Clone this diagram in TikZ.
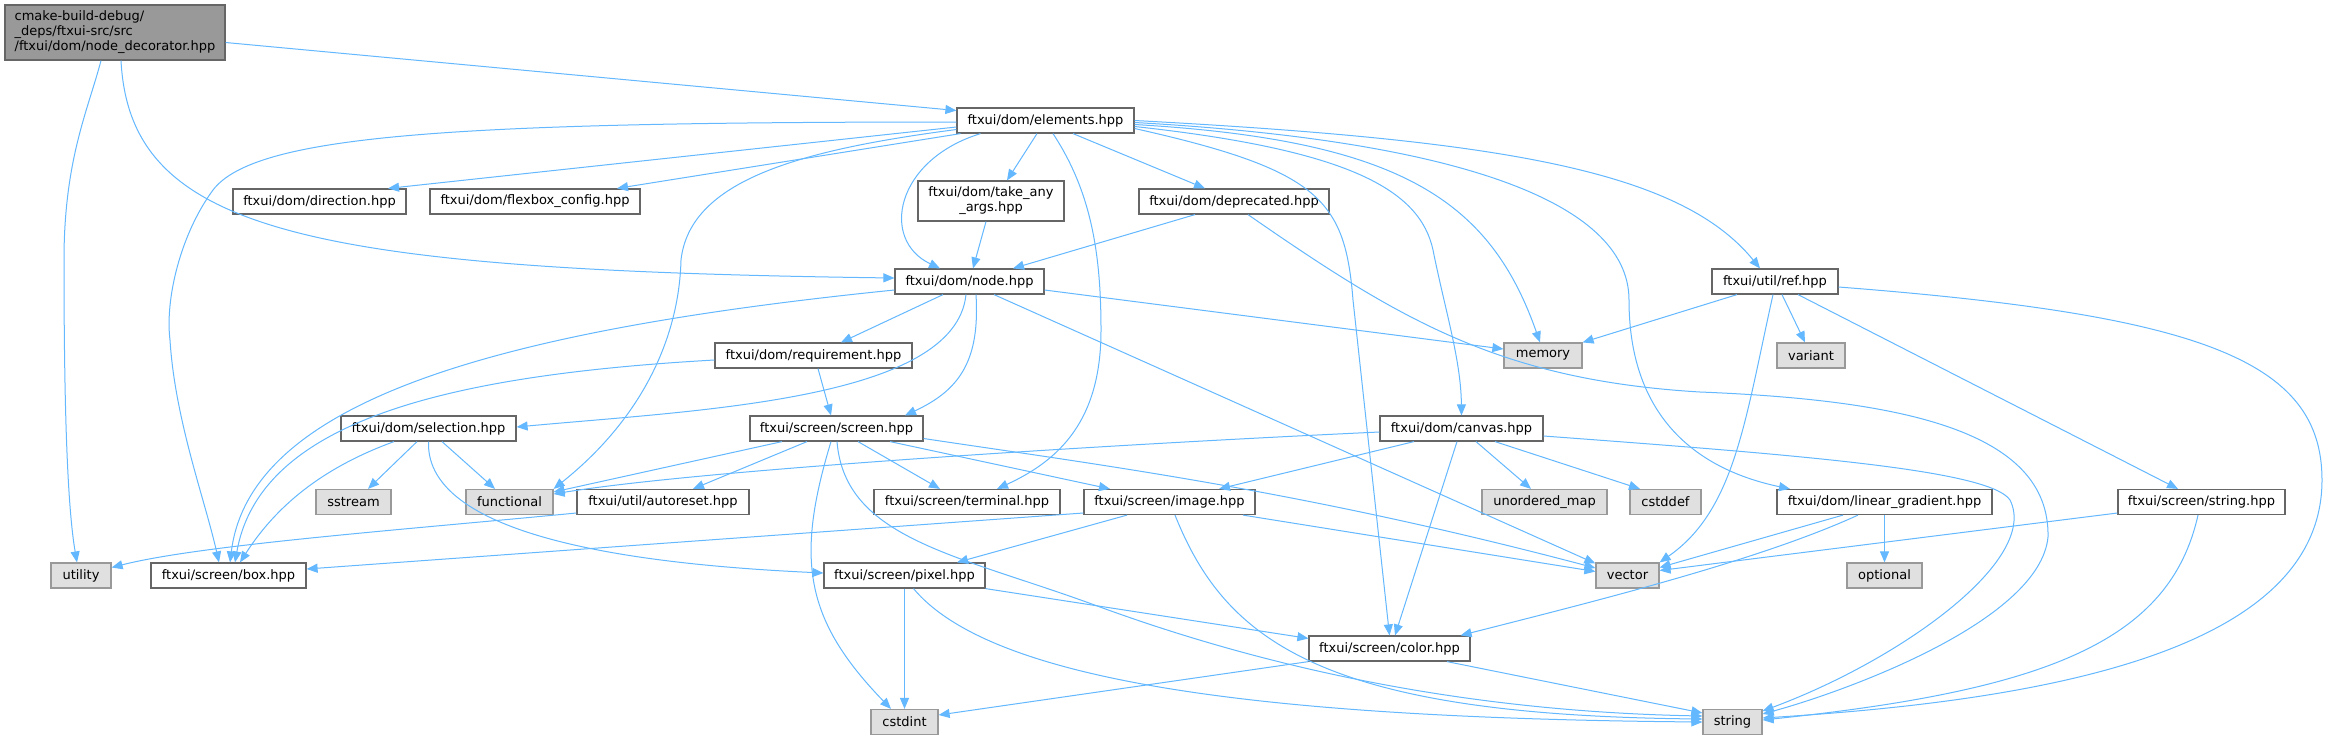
\documentclass[tikz,border=0pt]{standalone}
\usepackage{fontspec}
\setmainfont{DejaVu Sans}
\usetikzlibrary{arrows.meta}
\definecolor{edgeblue}{HTML}{63B8FF}
\definecolor{hdrline}{HTML}{666666}
\definecolor{sysline}{HTML}{999999}
\definecolor{sysfill}{HTML}{E0E0E0}
\definecolor{rootfill}{HTML}{999999}
\begin{document}
\begin{tikzpicture}[x=1pt,y=-1pt,
    hdr/.style={draw=hdrline, line width=1.2pt, fill=white, minimum height=25pt, inner sep=0pt, font=\fontsize{13}{15}\selectfont},
    sys/.style={hdr, draw=sysline, fill=sysfill},
    rootbox/.style={hdr, fill=rootfill, align=left, minimum height=55pt},
    inc/.style={edgeblue, line width=1pt, -{Triangle[length=11pt,width=9pt]}}]
    \path[use as bounding box, fill=white] (0,0) rectangle (2329,740);

    \node[rootbox, minimum width=220pt] (decor) at (115,32.5) {cmake-build-debug/\\\_deps/ftxui-src/src\\/ftxui/dom/node\_decorator.hpp};
    \node[hdr, minimum width=177pt] (elements) at (1045.5,120.5) {ftxui/dom/elements.hpp};
    \node[hdr, minimum width=173pt] (direction) at (319.5,201.5) {ftxui/dom/direction.hpp};
    \node[hdr, minimum width=210pt] (flexbox) at (535,201.5) {ftxui/dom/flexbox\_config.hpp};
    \node[hdr, minimum width=146pt, minimum height=40pt, align=center] (takeany) at (991,201) {ftxui/dom/take\_any\\\_args.hpp};
    \node[hdr, minimum width=190pt] (deprecated) at (1234,201.5) {ftxui/dom/deprecated.hpp};
    \node[hdr, minimum width=149pt] (domnode) at (969.5,281.5) {ftxui/dom/node.hpp};
    \node[hdr, minimum width=126pt] (ref) at (1775,281.5) {ftxui/util/ref.hpp};
    \node[sys, minimum width=78pt] (memory) at (1543,355.5) {memory};
    \node[sys, minimum width=68pt] (variant) at (1811,355.5) {variant};
    \node[hdr, minimum width=197pt] (requirement) at (813.5,355.5) {ftxui/dom/requirement.hpp};
    \node[hdr, minimum width=175pt] (selection) at (428.5,428.5) {ftxui/dom/selection.hpp};
    \node[hdr, minimum width=173pt] (screen) at (836.5,428.5) {ftxui/screen/screen.hpp};
    \node[hdr, minimum width=163pt] (canvas) at (1461.5,428.5) {ftxui/dom/canvas.hpp};
    \node[sys, minimum width=75pt] (sstream) at (353.5,502) {sstream};
    \node[sys, minimum width=87pt] (functional) at (509.5,502) {functional};
    \node[hdr, minimum width=172pt] (autoreset) at (663,502) {ftxui/util/autoreset.hpp};
    \node[hdr, minimum width=186pt] (terminal) at (967,502) {ftxui/screen/terminal.hpp};
    \node[hdr, minimum width=171pt] (scrimage) at (1169.5,502) {ftxui/screen/image.hpp};
    \node[sys, minimum width=125pt] (unorderedmap) at (1544.5,502) {unordered\_map};
    \node[sys, minimum width=71pt] (cstddef) at (1665.5,502) {cstddef};
    \node[hdr, minimum width=215pt] (lineargradient) at (1884.5,502) {ftxui/dom/linear\_gradient.hpp};
    \node[hdr, minimum width=167pt] (strhpp) at (2201.5,502) {ftxui/screen/string.hpp};
    \node[sys, minimum width=60pt] (utility) at (81,575.5) {utility};
    \node[hdr, minimum width=155pt] (scrbox) at (228.5,575.5) {ftxui/screen/box.hpp};
    \node[hdr, minimum width=161pt] (pixel) at (904.5,575.5) {ftxui/screen/pixel.hpp};
    \node[sys, minimum width=63pt] (vec) at (1627.5,575.5) {vector};
    \node[sys, minimum width=75pt] (optional) at (1884.5,575.5) {optional};
    \node[hdr, minimum width=161pt] (scrcolor) at (1389.5,648.5) {ftxui/screen/color.hpp};
    \node[sys, minimum width=67pt] (cstdint) at (904.5,722) {cstdint};
    \node[sys, minimum width=59pt] (str) at (1732.5,722) {string};

    \draw[inc] ([yshift=-10pt]decor.east) -- ([yshift=10pt]elements.west);
    \draw[inc] ([xshift=-14pt]decor.south) .. controls (88,110) and (64,160) .. (64,260) .. controls (64,420) and (68,510) .. ([xshift=-4pt]utility.north);
    \draw[inc] ([xshift=6pt]decor.south) .. controls (130,230) and (300,270) .. ([yshift=3.5pt]domnode.west);

    \draw[inc] ([yshift=-1.5pt]elements.west) .. controls (450,122) and (255,135) .. (213,190) .. controls (180,235) and (165,300) .. (170,340) .. controls (175,420) and (205,500) .. ([xshift=-9.5pt]scrbox.north);
    \draw[inc] ([yshift=-6.5pt]elements.west) -- ([xshift=68.5pt]direction.north);
    \draw[inc] ([xshift=-85pt]elements.south) -- ([xshift=82pt]flexbox.north);
    \draw[inc] ([yshift=-9pt]elements.west) .. controls (800,150) and (690,180) .. (681,260) .. controls (679,340) and (640,420) .. (functional.north east);
    \draw[inc] ([xshift=-8.5pt]elements.south) -- ([xshift=16pt]takeany.north);
    \draw[inc] ([xshift=-65pt]elements.south) .. controls (895,160) and (880,240) .. ([xshift=-29.5pt]domnode.north);
    \draw[inc] ([xshift=7.5pt]elements.south) .. controls (1090,190) and (1101,250) .. (1101,330) .. controls (1101,420) and (1060,460) .. ([xshift=30pt]terminal.north);
    \draw[inc] ([xshift=27.5pt]elements.south) -- ([xshift=-29pt]deprecated.north);
    \draw[inc] ([yshift=-8pt]elements.east) .. controls (1320,170) and (1345,200) .. (1353,300) -- (scrcolor.north);
    \draw[inc] ([yshift=-6pt]elements.east) .. controls (1350,150) and (1420,190) .. (1433,250) .. controls (1445,310) and (1461,360) .. (canvas.north);
    \draw[inc] ([yshift=-4pt]elements.east) .. controls (1400,140) and (1490,200) .. ([xshift=-3pt]memory.north);
    \draw[inc] ([yshift=-2pt]elements.east) .. controls (1450,140) and (1629,200) .. (1629,300) .. controls (1629,420) and (1700,470) .. ([xshift=-94.5pt]lineargradient.north);
    \draw[inc] (elements.east) .. controls (1500,140) and (1680,170) .. ([xshift=-15pt]ref.north);

    \draw[inc] ([yshift=-8.5pt]domnode.east) -- ([yshift=6.5pt]memory.west);
    \draw[inc] ([yshift=-8.5pt]domnode.west) .. controls (500,330) and (250,400) .. ([xshift=1.5pt]scrbox.north);
    \draw[inc] ([xshift=-26.5pt]domnode.south) -- ([xshift=27.5pt]requirement.north);
    \draw[inc] ([xshift=-3.5pt]domnode.south) .. controls (955,400) and (700,410) .. ([yshift=1.5pt]selection.east);
    \draw[inc] ([xshift=6.5pt]domnode.south) .. controls (980,360) and (960,390) .. ([xshift=68.5pt]screen.north);
    \draw[inc] ([xshift=24.5pt]domnode.south) -- ([yshift=12pt]vec.west);

    \draw[inc] ([xshift=-5pt]takeany.south) -- ([xshift=3.5pt]domnode.north);
    \draw[inc] ([xshift=-39pt]deprecated.south) -- ([xshift=43.5pt]domnode.north);
    \draw[inc] ([xshift=14pt]deprecated.south) .. controls (1400,320) and (1500,380) .. (1700,392) .. controls (1900,400) and (2050,430) .. (2048,537) .. controls (2040,620) and (1850,690) .. ([yshift=8pt]str.east);

    \draw[inc] ([xshift=-38pt]ref.south) -- (memory.north east);
    \draw[inc] ([xshift=7pt]ref.south) -- ([xshift=-6pt]variant.north);
    \draw[inc] ([xshift=-2pt]ref.south) .. controls (1745,420) and (1735,510) .. (vec.north east);
    \draw[inc] ([xshift=23pt]ref.south) -- ([xshift=-23.5pt]strhpp.north);
    \draw[inc] ([yshift=-5.5pt]ref.east) .. controls (2200,315) and (2322,360) .. (2322,480) .. controls (2322,650) and (2050,700) .. ([yshift=4pt]str.east);

    \draw[inc] ([yshift=-4.5pt]requirement.west) .. controls (450,375) and (260,420) .. ([xshift=6.5pt]scrbox.north);
    \draw[inc] ([xshift=4.5pt]requirement.south) -- ([xshift=-5.5pt]screen.north);

    \draw[inc] ([xshift=-34.5pt]selection.south) .. controls (330,465) and (280,500) .. ([xshift=11.5pt]scrbox.north);
    \draw[inc] ([xshift=-11.5pt]selection.south) -- ([xshift=14.5pt]sstream.north);
    \draw[inc] ([xshift=13.5pt]selection.south) -- ([xshift=-14.5pt]functional.north);
    \draw[inc] (selection.south) .. controls (425,540) and (650,565) .. ([yshift=2.5pt]pixel.west);

    \draw[inc] ([xshift=-54.5pt]screen.south) -- ([yshift=10pt]functional.east);
    \draw[inc] ([xshift=-29.5pt]screen.south) -- ([xshift=30pt]autoreset.north);
    \draw[inc] ([xshift=21.5pt]screen.south) -- ([xshift=-27pt]terminal.north);
    \draw[inc] ([xshift=53.5pt]screen.south) -- ([xshift=-59.5pt]scrimage.north);
    \draw[inc] ([yshift=-10pt]screen.east) .. controls (1100,465) and (1300,490) .. ([yshift=7.5pt]vec.west);
    \draw[inc] ([xshift=-5.5pt]screen.south) .. controls (795,560) and (805,620) .. ([xshift=-13.5pt]cstdint.north);
    \draw[inc] ([xshift=0.5pt]screen.south) .. controls (845,540) and (960,555) .. (1100,607) .. controls (1300,680) and (1500,712) .. ([yshift=6pt]str.west);

    \draw[inc] ([yshift=-3.5pt]canvas.west) .. controls (1100,445) and (700,470) .. ([yshift=8pt]functional.east);
    \draw[inc] ([xshift=-47.5pt]canvas.south) -- ([xshift=49.5pt]scrimage.north);
    \draw[inc] ([xshift=-4.5pt]canvas.south) -- ([xshift=5.5pt]scrcolor.north);
    \draw[inc] ([xshift=14.5pt]canvas.south) -- ([xshift=-13.5pt]unorderedmap.north);
    \draw[inc] ([xshift=33.5pt]canvas.south) -- ([xshift=-25.5pt]cstddef.north);
    \draw[inc] ([yshift=-7.5pt]canvas.east) .. controls (1800,455) and (1990,470) .. (2010,500) .. controls (2040,560) and (1900,660) .. ([yshift=11pt]str.east);

    \draw[inc] ([yshift=-11pt]autoreset.west) .. controls (400,530) and (200,545) .. ([yshift=8pt]utility.east);

    \draw[inc] ([yshift=-11pt]scrimage.west) -- ([yshift=6.5pt]scrbox.east);
    \draw[inc] ([xshift=-42.5pt]scrimage.south) -- ([xshift=52.5pt]pixel.north);
    \draw[inc] ([xshift=73.5pt]scrimage.south) -- ([yshift=4pt]vec.west);
    \draw[inc] ([xshift=5.5pt]scrimage.south) .. controls (1225,640) and (1320,715) .. ([yshift=3pt]str.west);

    \draw[inc] (pixel) -- (cstdint);
    \draw[inc] (pixel.south east) -- ([yshift=-3pt]scrcolor.north west);
    \draw[inc] ([xshift=9pt]pixel.south) .. controls (990,680) and (1250,718) .. (str.west);

    \draw[inc] (scrcolor.south west) -- ([yshift=7pt]cstdint.east);
    \draw[inc] ([xshift=57.5pt]scrcolor.south) -- ([yshift=9pt]str.west);

    \draw[inc] ([xshift=-41.5pt]lineargradient.south) -- ([yshift=8pt]vec.east);
    \draw[inc] (lineargradient) -- (optional);
    \draw[inc] ([xshift=-26.5pt]lineargradient.south) .. controls (1760,560) and (1600,600) .. ([xshift=-10pt]scrcolor.north east);

    \draw[inc] ([yshift=-11pt]strhpp.west) -- ([yshift=5pt]vec.east);
    \draw[inc] ([xshift=-3.5pt]strhpp.south) .. controls (2170,640) and (2050,690) .. ([yshift=2pt]str.east);
\end{tikzpicture}
\end{document}
